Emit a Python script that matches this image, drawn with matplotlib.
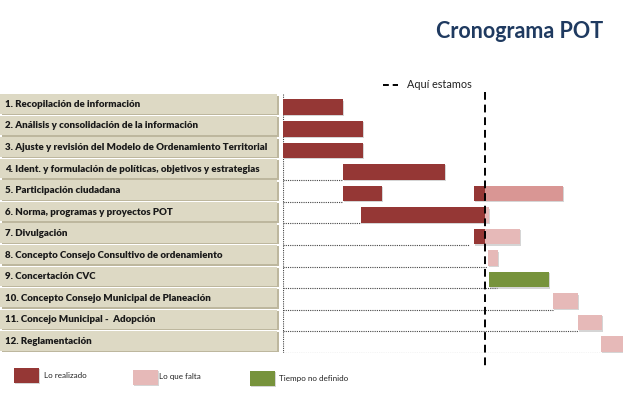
import matplotlib.pyplot as plt
import matplotlib.patches as mpatches
import matplotlib.patheffects as pe

# 1. DATA (x in months from start of schedule)
tasks = [
    '1. Recopilación de información',
    '2. Análisis y consolidación de la información',
    '3. Ajuste y revisión del Modelo de Ordenamiento Territorial',
    '4. Ident. y formulación de políticas, objetivos y estrategias',
    '5. Participación ciudadana',
    '6. Norma, programas y proyectos POT',
    '7. Divulgación',
    '8. Concepto Consejo Consultivo de ordenamiento',
    '9. Concertación CVC',
    '10. Concepto Consejo Municipal de Planeación',
    '11. Concejo Municipal -  Adopción',
    '12. Reglamentación',
]
done_segs = [[(0, 3.0)], [(0, 4.0)], [(0, 4.0)], [(3.0, 8.1)],
             [(3.0, 4.95), (9.55, 10.1)], [(3.9, 10.1)], [(9.55, 10.1)],
             [], [], [], [], []]
pend_segs = [[], [], [], [], [(10.1, 14.0)], [(10.1, 10.3)], [(10.1, 11.85)],
             [(10.25, 10.75)], [], [(13.5, 14.75)], [(14.75, 15.95)], [(15.9, 17.6)]]
undef_segs = [[], [], [], [], [], [], [], [], [(10.3, 13.3)], [], [], []]
lead = [0, 0, 0, 3.0, 3.0, 3.9, 9.3, 10.2, 10.7, 13.5, 14.75, 15.9]
today = 10.1

C_DONE = '#953735'
C_PEND = '#E6B9B8'
C_PEND_DARK = '#D99694'
C_UNDEF = '#77933C'
C_BOX = '#DDD9C4'
C_BOX_SH = '#BDB79E'

W, H = 623, 396
def fx(px): return px / W
def fy(py): return 1 - py / H

plt.rcParams['font.family'] = ['Lato', 'DejaVu Sans']

fig = plt.figure(figsize=(6.23, 3.96), dpi=100, facecolor='white')
y0, y1 = 352.7, 94.3

# 2. LABEL BOXES
lab = fig.add_axes([0, fy(y0), fx(280), (y0 - y1) / H])
lab.set_xlim(0, 280)
lab.set_ylim(12, 0)
lab.axis('off')
for i, t in enumerate(tasks):
    lab.add_patch(mpatches.Rectangle((1.5, i + 0.06), 277, 0.9, facecolor=C_BOX_SH,
                                     edgecolor='none', zorder=1))
    lab.add_patch(mpatches.Rectangle((0, i), 277, 0.9, facecolor=C_BOX,
                                     edgecolor='none', zorder=2))
    lab.text(5, i + 0.47, t, fontsize=7.0, fontweight='heavy', color='#1A1A1A',
             va='center', ha='left', zorder=3)

# 3. GANTT
ax = fig.add_axes([fx(283), fy(y0), fx(340), (y0 - y1) / H])
ax.set_xlim(0, 17)
ax.set_ylim(12, 0)
ax.axis('off')

shadow = [pe.SimplePatchShadow(offset=(1, -1), shadow_rgbFace='#888888', alpha=0.35), pe.Normal()]
bh, yc = 0.72, 0.6
for i in range(len(tasks)):
    if lead[i] > 0:
        ax.plot([0, lead[i]], [i + 1, i + 1], color='#444444', lw=0.8,
                linestyle=(0, (1, 1)), zorder=1)
    for a, b in done_segs[i]:
        ax.barh(i + yc, b - a, left=a, height=bh, color=C_DONE, zorder=3, path_effects=shadow)
    for a, b in pend_segs[i]:
        col = C_PEND_DARK if i == 4 else C_PEND
        ax.barh(i + yc, b - a, left=a, height=bh, color=col, zorder=3, path_effects=shadow)
    for a, b in undef_segs[i]:
        ax.barh(i + yc, b - a, left=a, height=bh, color=C_UNDEF, zorder=3, path_effects=shadow)

ax.plot([0, 0], [0, 12], color='#444444', lw=0.8, linestyle=(0, (1, 1)), zorder=1)
ax.plot([today, today], [-0.1, 12.8], color='black', lw=1.4,
        linestyle=(0, (4, 2.5)), zorder=5, clip_on=False)

# 4. TITLE & LEGENDS
fig.text(fx(603), fy(31), 'Cronograma POT', fontsize=15.5, fontweight='bold',
         color='#1F3A60', ha='right', va='center')

fig.add_artist(plt.Line2D([fx(383), fx(398)], [fy(85), fy(85)], color='black',
                          lw=1.4, linestyle=(0, (3, 2)), transform=fig.transFigure))
fig.text(fx(407), fy(84), 'Aquí estamos', fontsize=7.8, color='#222222',
         ha='left', va='center')

leg = [(14, 368, C_DONE, 44, 'Lo realizado'),
       (133, 370, C_PEND, 159, 'Lo que falta'),
       (250, 371, C_UNDEF, 279, 'Tiempo no definido')]
for x, y, c, tx, s in leg:
    fig.add_artist(mpatches.Rectangle((fx(x), fy(y + 14.5)), 25 / W, 14.5 / H,
                                      facecolor=c, edgecolor='none',
                                      transform=fig.transFigure, path_effects=shadow))
    fig.text(fx(tx), fy(y + 7), s, fontsize=5.8, color='#222222', ha='left', va='center')

fig.savefig('out.png', dpi=100, facecolor='white')
